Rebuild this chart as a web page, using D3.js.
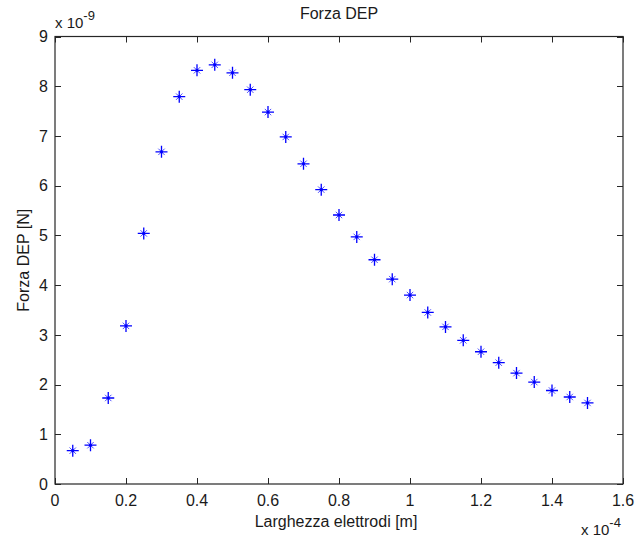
<!DOCTYPE html>
<html><head><meta charset="utf-8">
<script src="https://cdn.jsdelivr.net/npm/d3@7"></script>
<style>
body{margin:0;background:#fff;}
svg text{font-family:"Liberation Sans",Arial,sans-serif;fill:#1a1a1a;}
</style></head>
<body><svg id="c" width="636" height="540"></svg>
<script>
const xValues = [0.05,0.10,0.15,0.20,0.25,0.30,0.35,0.40,0.45,0.50,0.55,0.60,0.65,0.70,0.75,0.80,0.85,0.90,0.95,1.00,1.05,1.10,1.15,1.20,1.25,1.30,1.35,1.40,1.45,1.50];
const yValues = [0.67,0.78,1.73,3.18,5.04,6.68,7.79,8.32,8.43,8.27,7.93,7.48,6.98,6.44,5.92,5.41,4.97,4.51,4.12,3.80,3.45,3.16,2.89,2.66,2.44,2.23,2.05,1.88,1.75,1.63];
const xTicks = [0,0.2,0.4,0.6,0.8,1,1.2,1.4,1.6];
const yTicks = [0,1,2,3,4,5,6,7,8,9];
const title = "Forza DEP";
const xLabel = "Larghezza elettrodi [m]";
const yLabel = "Forza DEP [N]";

const L=55,R=623,T=36.5,B=484;
const svg=d3.select("#c");
const x=d3.scaleLinear().domain([0,1.6]).range([L,R]);
const y=d3.scaleLinear().domain([0,9]).range([B,T]);
const fs=16;
const axCol="#262626";

svg.append("rect").attr("x",L).attr("y",T).attr("width",R-L).attr("height",B-T)
  .attr("fill","none").attr("stroke",axCol).attr("stroke-width",1.2);

const tl=6;
const g=svg.append("g");
xTicks.forEach(t=>{
  const px=Math.round(x(t))+0.5;
  g.append("line").attr("x1",px).attr("x2",px).attr("y1",B).attr("y2",B-tl).attr("stroke",axCol);
  g.append("line").attr("x1",px).attr("x2",px).attr("y1",T).attr("y2",T+tl).attr("stroke",axCol);
  g.append("text").attr("x",x(t)).attr("y",B+22).attr("text-anchor","middle").attr("font-size",fs).text(d3.format("~g")(t));
});
yTicks.forEach(t=>{
  const py=Math.round(y(t))+0.5;
  g.append("line").attr("x1",L).attr("x2",L+tl).attr("y1",py).attr("y2",py).attr("stroke",axCol);
  g.append("line").attr("x1",R).attr("x2",R-tl).attr("y1",py).attr("y2",py).attr("stroke",axCol);
  g.append("text").attr("x",L-7).attr("y",y(t)).attr("dy","0.36em").attr("text-anchor","end").attr("font-size",fs).text(t);
});

const e1=svg.append("text").attr("x",55).attr("y",28).attr("font-size",fs-1);
e1.append("tspan").text("x 10");
e1.append("tspan").attr("dy",-8).attr("font-size",fs-3).text("-9");
const e2=svg.append("text").attr("x",581).attr("y",535).attr("font-size",fs-1);
e2.append("tspan").text("x 10");
e2.append("tspan").attr("dy",-8).attr("font-size",fs-3).text("-4");

svg.append("text").attr("x",(L+R)/2).attr("y",19).attr("text-anchor","middle").attr("font-size",fs).text(title);
svg.append("text").attr("x",(L+R)/2+-3).attr("y",527).attr("text-anchor","middle").attr("font-size",fs).text(xLabel);
svg.append("text").attr("transform",`translate(29,${(T+B)/2}) rotate(-90)`).attr("text-anchor","middle").attr("font-size",fs).text(yLabel);

const data=xValues.map((v,i)=>({x:v,y:yValues[i]}));
const m=svg.append("g").attr("stroke","#0000ff").attr("fill","none");
data.forEach(d=>{
  const cx=x(d.x),cy=y(d.y),a=6,b=3.2;
  m.append("path").attr("stroke-width",1.3).attr("d",`M${cx-a},${cy}H${cx+a}M${cx},${cy-a}V${cy+a}`);
  m.append("path").attr("stroke-width",1).attr("stroke-opacity",0.7).attr("d",`M${cx-b},${cy-b}L${cx+b},${cy+b}M${cx-b},${cy+b}L${cx+b},${cy-b}`);
  m.append("circle").attr("cx",cx).attr("cy",cy).attr("r",1.6).attr("fill","#0000ff").attr("stroke","none");
});
</script></body></html>
